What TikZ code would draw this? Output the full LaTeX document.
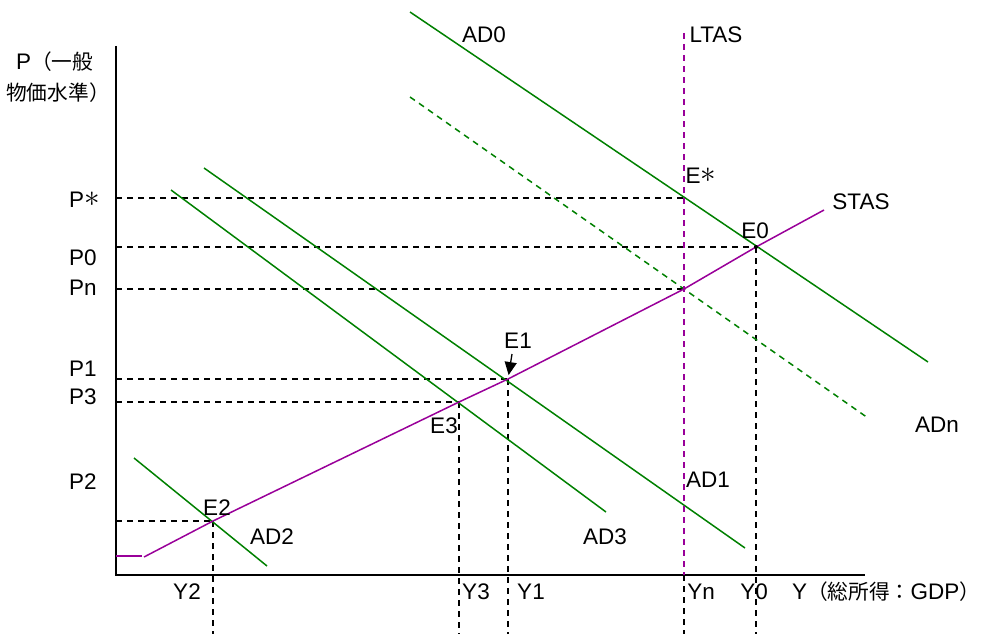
\documentclass[tikz,border=0pt]{standalone}
\usepackage{fontspec}
\setmainfont{Liberation Sans}
\newfontfamily\jpfont[Scale=0.92]{Noto Sans CJK JP}
\usepackage{tikz}
\usetikzlibrary{arrows.meta}
\definecolor{adgreen}{HTML}{008000}
\definecolor{aspurple}{HTML}{990099}
\newcommand{\starmark}{\raisebox{0.05em}{\scalebox{1.5}{$\ast$}}}

\begin{document}
\begin{tikzpicture}[x=1pt, y=-1pt,
    lbl/.style={inner sep=0pt, font=\fontsize{22.5}{26}\selectfont},
    guide/.style={dash pattern=on 6pt off 5pt, line width=1.3pt},
    adline/.style={adgreen, line width=1.5pt},
    asline/.style={aspurple, line width=1.5pt}]
    \useasboundingbox (0,0) rectangle (981,634);
    % axes
    \coordinate (O) at (116,575);
    \coordinate (ytop) at (116,46);
    \coordinate (xend) at (865,575);
    \coordinate (bottom) at (0,634);
    % equilibria
    \coordinate (Es) at (684,198);
    \coordinate (E0) at (756,247);
    \coordinate (En) at (684,289);
    \coordinate (E1) at (508,379);
    \coordinate (E3) at (459,402);
    \coordinate (E2) at (213,521);
    % curve ends
    \coordinate (ad0a) at (410,12);   \coordinate (ad0b) at (928,362);
    \coordinate (adna) at (410,97);   \coordinate (adnb) at (868,418);
    \coordinate (ad1a) at (204,168);  \coordinate (ad1b) at (745,548);
    \coordinate (ad3a) at (171,190);  \coordinate (ad3b) at (606,512);
    \coordinate (ad2a) at (134,458);  \coordinate (ad2b) at (267,566);
    \coordinate (stasa) at (144,557); \coordinate (stasb) at (824,210);
    \coordinate (stubA) at (116,556); \coordinate (stubB) at (142,556);
    \coordinate (ltastop) at (684,33);
    \coordinate (ltasfoot) at (684,575);
    \coordinate (e1tail) at (512,354);

    \draw[guide] (O |- Es) -- (Es);
    \draw[guide] (O |- E0) -- (E0);
    \draw[guide] (O |- En) -- (En);
    \draw[guide] (O |- E1) -- (E1);
    \draw[guide] (O |- E3) -- (E3);
    \draw[guide] (O |- E2) -- (E2);
    \draw[guide] (E2) -- (E2 |- bottom);
    \draw[guide] (E3) -- (E3 |- bottom);
    \draw[guide] (E1) -- (E1 |- bottom);
    \draw[guide] (E0) -- (E0 |- bottom);
    \draw[guide] (ltasfoot) -- (ltasfoot |- bottom);

    \draw[line width=1.5pt] (ytop) -- (O) -- (xend);

    \draw[adline] (ad0a) -- (ad0b);
    \draw[adline, dash pattern=on 6pt off 5pt] (adna) -- (adnb);
    \draw[adline] (ad1a) -- (ad1b);
    \draw[adline] (ad3a) -- (ad3b);
    \draw[adline] (ad2a) -- (ad2b);
    \draw[asline, dash pattern=on 6pt off 5pt] (ltastop) -- (ltasfoot);
    \draw[asline] (stubA) -- (stubB);
    \draw[asline] (stasa) -- (E2) -- (E3) -- (E1) -- (En) -- (E0) -- (stasb);
    \fill (E0) circle (2pt);

    \node[lbl, anchor=west] (plabel) at (16,62) {P{\jpfont （一般}};
    \node[lbl, anchor=west] (plabel2) at (6,93) {{\jpfont 物価水準）}};
    \node[lbl, anchor=west] (pstar) at (69,200) {P\starmark};
    \node[lbl, anchor=west] (pzero) at (69,258) {P0};
    \node[lbl, anchor=west] (pn) at (69,288) {Pn};
    \node[lbl, anchor=west] (pone) at (69,369) {P1};
    \node[lbl, anchor=west] (pthree) at (69,397) {P3};
    \node[lbl, anchor=west] (ptwo) at (69,482) {P2};

    \node[lbl] (ytwo) at (187,592) {Y2};
    \node[lbl] (ythree) at (476,592) {Y3};
    \node[lbl] (yone) at (531,592) {Y1};
    \node[lbl] (yn) at (701,592) {Yn};
    \node[lbl] (yzero) at (754,592) {Y0};
    \node[lbl] (ylabel) at (886,592) {Y{\jpfont （総所得：}GDP{\jpfont ）}};

    \node[lbl] (adzero) at (484,35) {AD0};
    \node[lbl] (ltas) at (716,35) {LTAS};
    \node[lbl] (estar) at (701,176) {E\starmark};
    \node[lbl] (stas) at (861,202) {STAS};
    \node[lbl] (ezero) at (755,231) {E0};
    \node[lbl] (adn) at (937,425) {ADn};
    \node[lbl] (eone) at (518,341) {E1};
    \node[lbl] (ethree) at (444,426) {E3};
    \node[lbl] (adone) at (708,480) {AD1};
    \node[lbl] (adthree) at (605,537) {AD3};
    \node[lbl] (etwo) at (217,508) {E2};
    \node[lbl] (adtwo) at (272,537) {AD2};

    \draw[line width=1.3pt, -{Triangle[length=13pt, width=12pt]}, shorten >=4pt] (e1tail) -- (E1);
\end{tikzpicture}
\end{document}
